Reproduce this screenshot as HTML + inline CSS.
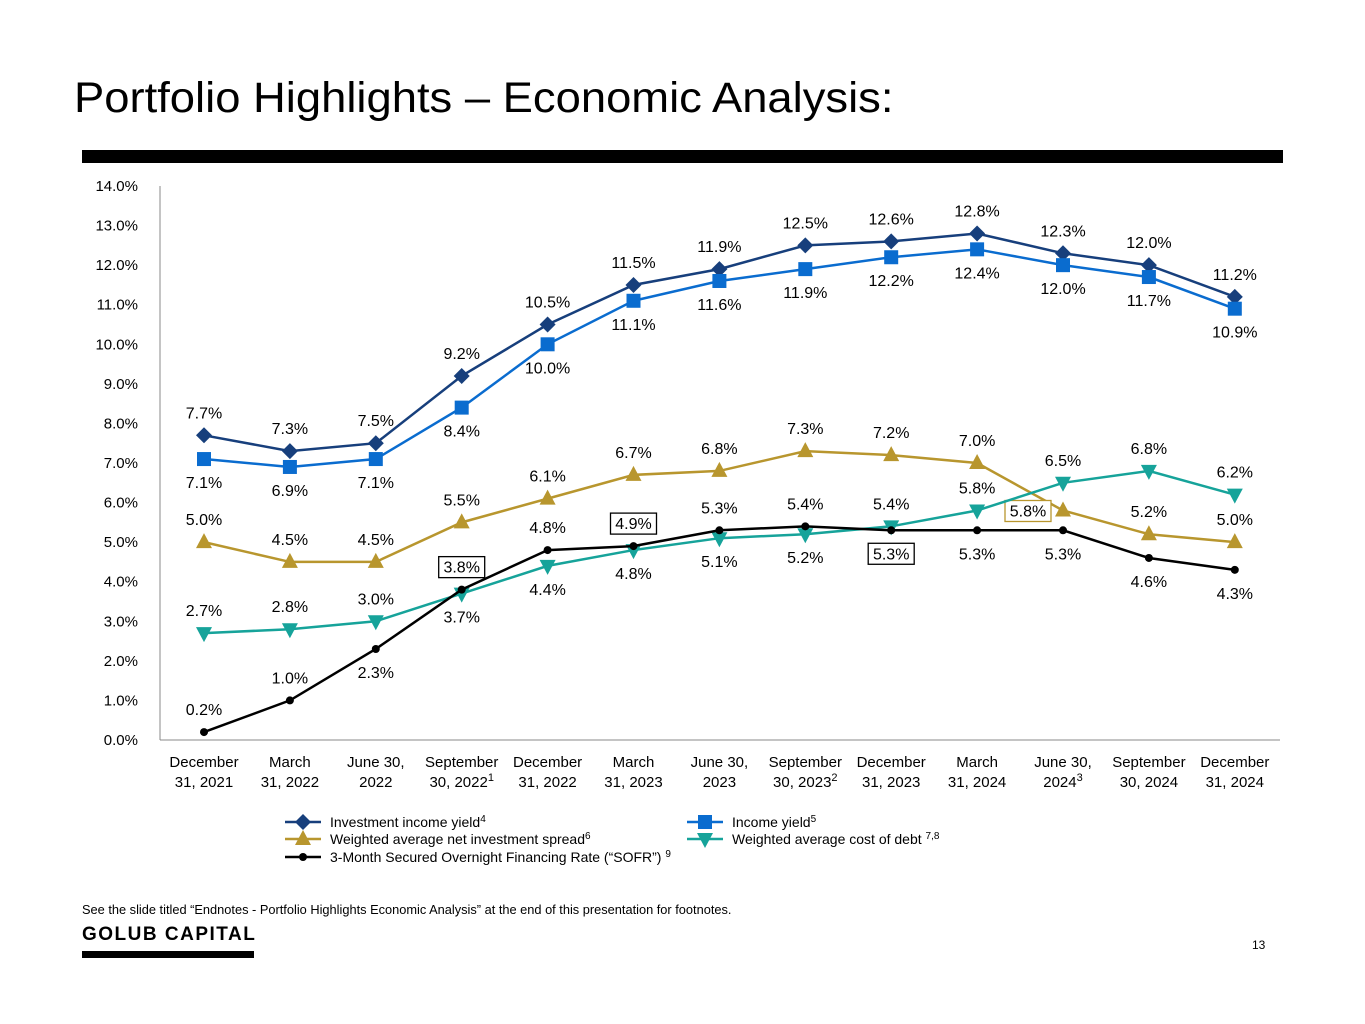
<!DOCTYPE html>
<html><head><meta charset="utf-8"><style>
body{margin:0;background:#fff;width:1365px;height:1024px;overflow:hidden;font-family:"Liberation Sans",sans-serif;position:relative}
.t{position:absolute}
</style></head><body>
<div class="t" style="left:74px;top:74px;font-size:43px;color:#000;letter-spacing:0px;transform:scaleX(1.055);transform-origin:left top">Portfolio Highlights – Economic Analysis:</div>
<div class="t" style="left:82px;top:150px;width:1201px;height:13px;background:#000"></div>
<svg class="t" style="left:0;top:0" width="1365" height="900" id="chart"></svg>
<div class="t" style="left:82px;top:902px;font-size:12.8px;color:#000">See the slide titled “Endnotes - Portfolio Highlights Economic Analysis” at the end of this presentation for footnotes.</div>
<div class="t" style="left:82px;top:924px;font-size:19px;font-weight:bold;letter-spacing:1.5px;color:#000">GOLUB CAPITAL</div>
<div class="t" style="left:82px;top:951px;width:172px;height:7px;background:#000"></div>
<div class="t" style="left:1252px;top:938px;font-size:12px;color:#000">13</div>
<script>
const categories=["December\n31, 2021","March\n31, 2022","June 30,\n2022","September\n30, 2022¹","December\n31, 2022","March\n31, 2023","June 30,\n2023","September\n30, 2023²","December\n31, 2023","March\n31, 2024","June 30,\n2024³","September\n30, 2024","December\n31, 2024"];
const yTicks=[0,1,2,3,4,5,6,7,8,9,10,11,12,13,14];
const investmentIncomeYield=[7.7,7.3,7.5,9.2,10.5,11.5,11.9,12.5,12.6,12.8,12.3,12.0,11.2];
const incomeYield=[7.1,6.9,7.1,8.4,10.0,11.1,11.6,11.9,12.2,12.4,12.0,11.7,10.9];
const netSpread=[5.0,4.5,4.5,5.5,6.1,6.7,6.8,7.3,7.2,7.0,5.8,5.2,5.0];
const costOfDebt=[2.7,2.8,3.0,3.7,4.4,4.8,5.1,5.2,5.4,5.8,6.5,6.8,6.2];
const sofr=[0.2,1.0,2.3,3.8,4.8,4.9,5.3,5.4,5.3,5.3,5.3,4.6,4.3];
const svg=document.getElementById('chart');const NS='http://www.w3.org/2000/svg';
function x(i){return 204+i*85.9;}
function y(v){return 740-v*39.57;}
function mk(tag,at,parent){const e=document.createElementNS(NS,tag);for(const k in at)e.setAttribute(k,at[k]);(parent||svg).appendChild(e);return e;}
let ax=mk('line',{x1:160,y1:186,x2:160,y2:740,stroke:'#888','stroke-width':1});


let bx=mk('line',{x1:160,y1:740,x2:1280,y2:740,stroke:'#888','stroke-width':1});


yTicks.forEach(v=>{let t=mk('text',{x:138,y:y(v)+5,'text-anchor':'end','font-size':15,fill:'#000'});t.textContent=v.toFixed(1)+'%';

});
categories.forEach((c,i)=>{const lines=c.split('\n');lines.forEach((l,j)=>{let t=mk('text',{x:x(i),y:767+j*20,'text-anchor':'middle','font-size':15,fill:'#000'});
let m=l.match(/^(.*?)([¹²³])$/);
if(m){t.textContent=m[1];let s=mk('tspan',{'font-size':11,dy:-6},t);s.textContent={'¹':'1','²':'2','³':'3'}[m[2]];}else t.textContent=l;

});});
function marker(type,cx,cy,col,g){
 if(type==='diamond')return mk('polygon',{points:`${cx},${cy-8} ${cx+8},${cy} ${cx},${cy+8} ${cx-8},${cy}`,fill:col},g);
 if(type==='square')return mk('rect',{x:cx-7,y:cy-7,width:14,height:14,fill:col},g);
 if(type==='up')return mk('polygon',{points:`${cx},${cy-9} ${cx+8},${cy+6} ${cx-8},${cy+6}`,fill:col},g);
 if(type==='down')return mk('polygon',{points:`${cx-8},${cy-6} ${cx+8},${cy-6} ${cx},${cy+9}`,fill:col},g);
 return mk('circle',{cx,cy,r:4,fill:col},g);}
const series=[
 {name:'investment-income-yield',data:investmentIncomeYield,col:'#173f7c',m:'diamond',pos:'aaaaaaaaaaaaa',box:''},
 {name:'income-yield',data:incomeYield,col:'#0a6ccf',m:'square',pos:'bbbbbbbbbbbbb',box:''},
 {name:'net-investment-spread',data:netSpread,col:'#b8962e',m:'up',pos:'aaaaaaaaaalaa',box:'..........g..'},
 {name:'cost-of-debt',data:costOfDebt,col:'#16a39a',m:'down',pos:'aaabbbbbaaaaa',box:''},
 {name:'sofr',data:sofr,col:'#000',m:'dot',pos:'aabaaaaabbbbb',box:'...k.k..k....'}];
series.forEach(s=>{const g=mk('g',{});

 mk('polyline',{points:s.data.map((v,i)=>x(i)+','+y(v)).join(' '),fill:'none',stroke:s.col,'stroke-width':2.5},g);
 s.data.forEach((v,i)=>{let p=marker(s.m,x(i),y(v),s.col,g);
 
 
 const ps=s.pos[i];let lx=x(i),ly=y(v);
 if(ps==='a')ly-=17;else if(ps==='b')ly+=29;else{lx-=35;ly+=6;}
 const b=s.box[i];
 if(b&&b!=='.'){let r=mk('rect',{x:lx-23,y:ly-16,width:46,height:21,fill:'#fff',stroke:b==='g'?'#b8962e':'#000','stroke-width':1.3},g);
 
 }
 let t=mk('text',{x:lx,y:ly,'text-anchor':'middle','font-size':16,fill:'#000'},g);t.textContent=v.toFixed(1)+'%';
 
 });});
const legend=[['investment-income-yield','Investment income yield','4',303,822,'#173f7c','diamond'],['income-yield','Income yield','5',705,822,'#0a6ccf','square'],['net-investment-spread','Weighted average net investment spread','6',303,839,'#b8962e','up'],['cost-of-debt','Weighted average cost of debt ','7,8',705,839,'#16a39a','down'],['sofr','3-Month Secured Overnight Financing Rate (“SOFR”) ','9',303,857,'#000','dot']];
legend.forEach(l=>{const g=mk('g',{});

 mk('line',{x1:l[3]-18,y1:l[4],x2:l[3]+18,y2:l[4],stroke:l[5],'stroke-width':2.5},g);
 marker(l[6],l[3],l[4],l[5],g);
 let t=mk('text',{x:l[3]+27,y:l[4]+5,'font-size':14,fill:'#000'},g);t.textContent=l[1];
 let s=mk('tspan',{'font-size':10,dy:-5},t);s.textContent=l[2];});
</script>
</body></html>
